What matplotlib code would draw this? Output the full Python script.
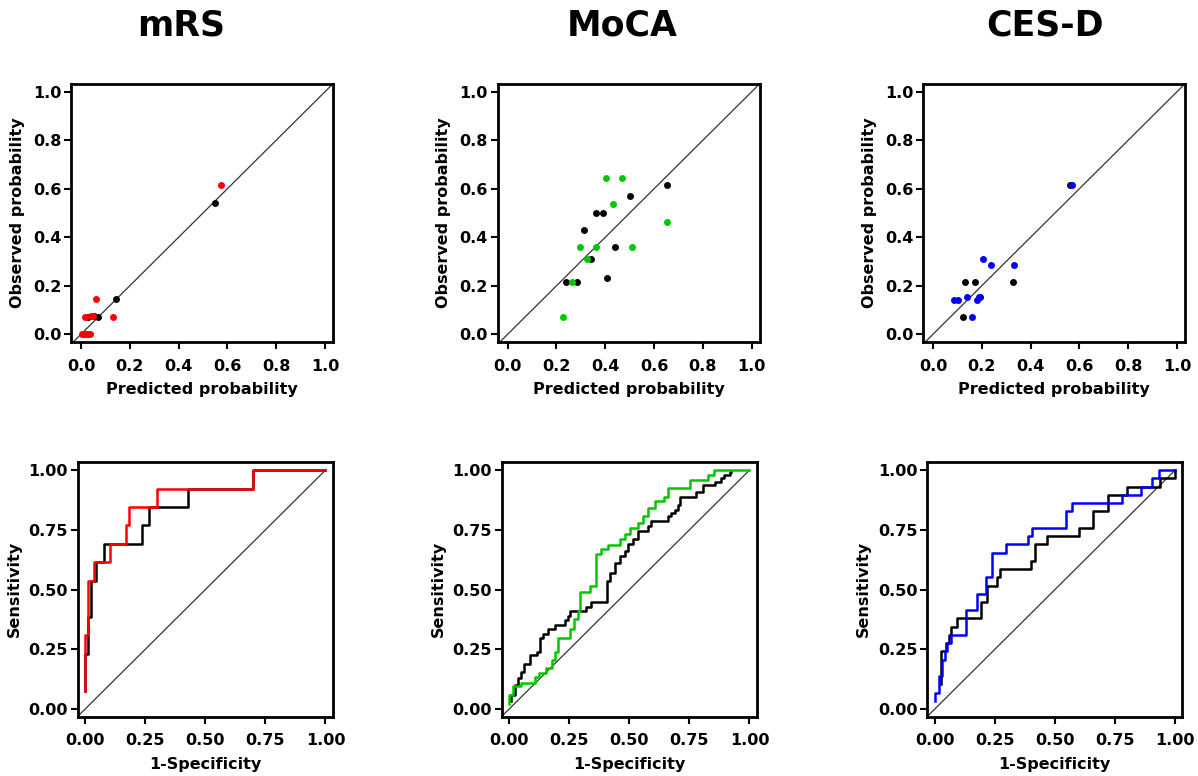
import matplotlib
matplotlib.use("Agg")
import matplotlib.pyplot as plt

plt.rcParams['font.family'] = ['DejaVu Sans']
plt.rcParams['font.weight'] = 'bold'

titles = ["mRS", "MoCA", "CES-D"]
colors = ["#ff0000", "#00c800", "#0000ff"]

# --- calibration plots (predicted vs observed probability) ---
mrs_cal_black_x = [0.030, 0.055, 0.070, 0.142, 0.549]
mrs_cal_black_y = [0.071, 0.077, 0.071, 0.144, 0.540]
mrs_cal_col_x = [0.005, 0.014, 0.022, 0.030, 0.038, 0.018, 0.042, 0.048, 0.061, 0.131, 0.572]
mrs_cal_col_y = [0.0, 0.0, 0.0, 0.0, 0.0, 0.071, 0.077, 0.077, 0.144, 0.071, 0.615]

moca_cal_black_x = [0.240, 0.283, 0.312, 0.341, 0.364, 0.392, 0.409, 0.440, 0.503, 0.653]
moca_cal_black_y = [0.214, 0.214, 0.430, 0.309, 0.500, 0.500, 0.232, 0.359, 0.571, 0.615]
moca_cal_col_x = [0.226, 0.263, 0.298, 0.325, 0.362, 0.402, 0.430, 0.467, 0.511, 0.653]
moca_cal_col_y = [0.071, 0.214, 0.359, 0.309, 0.359, 0.643, 0.538, 0.643, 0.359, 0.462]

cesd_cal_black_x = [0.121, 0.130, 0.172, 0.192, 0.326, 0.560]
cesd_cal_black_y = [0.071, 0.214, 0.214, 0.154, 0.214, 0.615]
cesd_cal_col_x = [0.085, 0.103, 0.140, 0.158, 0.181, 0.190, 0.203, 0.238, 0.330, 0.570]
cesd_cal_col_y = [0.143, 0.143, 0.154, 0.071, 0.143, 0.152, 0.309, 0.286, 0.286, 0.615]

# --- ROC curves (1-specificity, sensitivity), step points ---
mrs_roc_black_fpr = [0, 0, 0.012, 0.024, 0.047, 0.079, 0.235, 0.265, 0.426, 0.70, 1.0]
mrs_roc_black_tpr = [0.077, 0.231, 0.385, 0.538, 0.615, 0.692, 0.769, 0.846, 0.923, 1.0, 1.0]
mrs_roc_col_fpr = [0, 0, 0.0125, 0.0375, 0.103, 0.17, 0.183, 0.30, 0.70, 1.0]
mrs_roc_col_tpr = [0.077, 0.308, 0.538, 0.615, 0.692, 0.769, 0.846, 0.923, 1.0, 1.0]

moca_roc_black_fpr = [0.0097, 0.0097, 0.024, 0.037, 0.051, 0.061, 0.086, 0.114, 0.127, 0.141,
                      0.162, 0.19, 0.231, 0.245, 0.255, 0.321, 0.342, 0.407, 0.418, 0.439,
                      0.46, 0.481, 0.494, 0.515, 0.536, 0.578, 0.591, 0.661, 0.675, 0.688,
                      0.702, 0.709, 0.778, 0.806, 0.855, 0.882, 0.896, 0.917, 0.925]
moca_roc_black_tpr = [0.032, 0.059, 0.10, 0.129, 0.156, 0.187, 0.225, 0.239, 0.297, 0.315,
                      0.336, 0.353, 0.371, 0.391, 0.412, 0.426, 0.447, 0.537, 0.571, 0.613,
                      0.64, 0.661, 0.689, 0.71, 0.744, 0.765, 0.786, 0.806, 0.82, 0.834,
                      0.855, 0.889, 0.91, 0.938, 0.952, 0.965, 0.979, 0.993, 0.993]
moca_roc_col_fpr = [0, 0, 0.014, 0.051, 0.107, 0.125, 0.155, 0.18, 0.19, 0.204, 0.252,
                    0.269, 0.288, 0.294, 0.335, 0.363, 0.384, 0.411, 0.46, 0.481, 0.501,
                    0.536, 0.557, 0.578, 0.606, 0.644, 0.661, 0.751, 0.827, 0.852, 1.0]
moca_roc_col_tpr = [0.02, 0.059, 0.097, 0.111, 0.136, 0.149, 0.170, 0.205, 0.239, 0.297, 0.336,
                    0.378, 0.412, 0.488, 0.516, 0.647, 0.668, 0.685, 0.712, 0.734, 0.758,
                    0.779, 0.806, 0.841, 0.869, 0.889, 0.924, 0.958, 0.979, 1.0, 1.0]

cesd_roc_black_fpr = [0.025, 0.025, 0.046, 0.06, 0.069, 0.092, 0.191, 0.219, 0.261, 0.272,
                      0.40, 0.416, 0.469, 0.601, 0.66, 0.721, 0.799, 0.938, 1.0, 1.0]
cesd_roc_black_tpr = [0.103, 0.241, 0.276, 0.31, 0.345, 0.379, 0.448, 0.517, 0.552, 0.586,
                      0.621, 0.69, 0.724, 0.759, 0.828, 0.897, 0.931, 0.966, 0.966, 1.0]
cesd_roc_col_fpr = [0, 0, 0.018, 0.032, 0.042, 0.05, 0.067, 0.129, 0.175, 0.212, 0.24,
                    0.295, 0.388, 0.406, 0.545, 0.573, 0.781, 0.857, 0.905, 0.933, 1.0]
cesd_roc_col_tpr = [0.034, 0.069, 0.138, 0.207, 0.241, 0.276, 0.31, 0.414, 0.483, 0.552, 0.655,
                    0.69, 0.724, 0.759, 0.828, 0.862, 0.897, 0.931, 0.966, 1.0, 1.0]

cal_data = [
    (mrs_cal_black_x, mrs_cal_black_y, mrs_cal_col_x, mrs_cal_col_y),
    (moca_cal_black_x, moca_cal_black_y, moca_cal_col_x, moca_cal_col_y),
    (cesd_cal_black_x, cesd_cal_black_y, cesd_cal_col_x, cesd_cal_col_y),
]
roc_data = [
    (mrs_roc_black_fpr, mrs_roc_black_tpr, mrs_roc_col_fpr, mrs_roc_col_tpr),
    (moca_roc_black_fpr, moca_roc_black_tpr, moca_roc_col_fpr, moca_roc_col_tpr),
    (cesd_roc_black_fpr, cesd_roc_black_tpr, cesd_roc_col_fpr, cesd_roc_col_tpr),
]

cal_ticks = [0.0, 0.2, 0.4, 0.6, 0.8, 1.0]
cal_ticklabels = ["0.0", "0.2", "0.4", "0.6", "0.8", "1.0"]
roc_ticks = [0.0, 0.25, 0.5, 0.75, 1.0]
roc_ticklabels = ["0.00", "0.25", "0.50", "0.75", "1.00"]

W, H = 1198, 776
fig = plt.figure(figsize=(W / 100, H / 100), dpi=100)

top_left = [71, 497.7, 923]
bot_left = [77.7, 501.7, 927.3]
title_x = [181, 622, 1045]


def style_axes(ax):
    for sp in ax.spines.values():
        sp.set_linewidth(2)
    ax.tick_params(direction='out', length=5, width=1.5, labelsize=11.5)
    ax.tick_params(axis='x', pad=7)
    ax.tick_params(axis='y', pad=2)


for i in range(3):
    fig.text(title_x[i] / W, 1 - 26 / H, titles[i], ha='center', va='center',
             fontsize=25, fontweight='bold')

    # calibration plot
    ax = fig.add_axes([top_left[i] / W, (H - 342) / H, 262 / W, 258 / H])
    bx, by, cx, cy = cal_data[i]
    ax.axline((0, 0), slope=1, color='#333333', lw=0.9)
    ax.plot(bx, by, 'o', color='black', ms=5, mec='none')
    ax.plot(cx, cy, 'o', color=colors[i], ms=5, mec='none')
    ax.set_xlim(-0.041, 1.033)
    ax.set_ylim(-0.032, 1.032)
    ax.set_xticks(cal_ticks, cal_ticklabels)
    ax.set_yticks(cal_ticks, cal_ticklabels)
    ax.set_xlabel("Predicted probability", fontsize=11.5, fontweight='bold', labelpad=6)
    ax.set_ylabel("Observed probability", fontsize=11.5, fontweight='bold', labelpad=6)
    style_axes(ax)

    # ROC curve
    ax = fig.add_axes([bot_left[i] / W, (H - 716.7) / H, 255 / W, 254.7 / H])
    bf, bt, cf, ct = roc_data[i]
    ax.set_xlim(-0.031, 1.03)
    ax.set_ylim(-0.032, 1.034)
    lo = ax.get_xlim()[0]
    ax.plot([lo, 1.0], [lo, 1.0], color='#333333', lw=0.9)
    ax.plot(bf, bt, drawstyle='steps-post', color='black', lw=1.8)
    ax.plot(cf, ct, drawstyle='steps-post', color=colors[i], lw=1.8)
    ax.set_xticks(roc_ticks, roc_ticklabels)
    ax.set_yticks(roc_ticks, roc_ticklabels)
    ax.set_xlabel("1-Specificity", fontsize=11.5, fontweight='bold', labelpad=6)
    ax.set_ylabel("Sensitivity", fontsize=11.5, fontweight='bold', labelpad=5)
    style_axes(ax)

fig.savefig("out.png", dpi=100)
